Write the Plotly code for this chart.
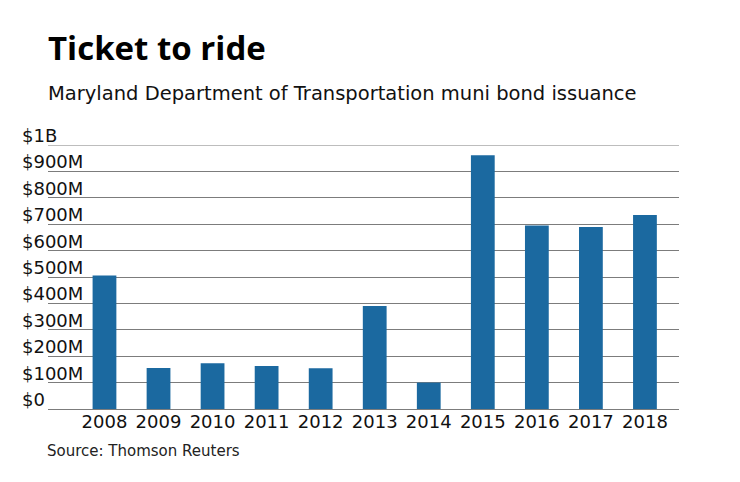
import plotly.graph_objects as go

years = ["2008", "2009", "2010", "2011", "2012", "2013", "2014", "2015", "2016", "2017", "2018"]
issuance_musd = [506, 155, 173, 163, 154, 390, 100, 961, 695, 689, 735]
ytick_vals = [0, 100, 200, 300, 400, 500, 600, 700, 800, 900, 1000]
ytick_text = ["$0", "$100M", "$200M", "$300M", "$400M", "$500M", "$600M", "$700M", "$800M", "$900M", "$1B"]

# page layout (page pixel coords); the html body adds an 8px offset
OFF = 8
PW, PH = 740, 482
PL, PR, PT, PB = 48, 679, 145, 409   # plot area edges on the page
pw = PR - PL
ph = PB - PT

W, H = PW - OFF, PH - OFF
margin = dict(l=PL - OFF, r=W - (PR - OFF), t=PT - OFF, b=H - (PB - OFF))

FONT = "DejaVu Sans"
GRID = "#7c7c7c"

fig = go.Figure(go.Bar(
    x=years, y=issuance_musd,
    marker=dict(color="#1b69a0", line=dict(width=0)),
    width=0.44,
    hoverinfo="x+y",
))

def px_x(x):
    return (x - PL) / pw

def px_y(y):
    return (PB - y) / ph

annotations = []
for v, t in zip(ytick_vals, ytick_text):
    annotations.append(dict(
        x=px_x(19.5), xref="paper", y=v, yref="y",
        text=t, showarrow=False, xanchor="left", yanchor="bottom",
        font=dict(family=FONT, size=18, color="#111"), yshift=-3,
    ))

annotations += [
    dict(x=px_x(45.5), xref="paper", y=px_y(47.5), yref="paper",
         text="<b>Ticket to ride</b>", showarrow=False, xanchor="left", yanchor="middle",
         font=dict(family="Open Sans", size=33, color="#000")),
    dict(x=px_x(45.5), xref="paper", y=px_y(93.5), yref="paper",
         text="Maryland Department of Transportation muni bond issuance", showarrow=False,
         xanchor="left", yanchor="middle",
         font=dict(family=FONT, size=19.5, color="#111")),
    dict(x=px_x(45), xref="paper", y=px_y(450.5), yref="paper",
         text="Source: Thomson Reuters", showarrow=False, xanchor="left", yanchor="middle",
         font=dict(family=FONT, size=15, color="#222")),
]

fig.add_shape(type="line", xref="paper", yref="y", x0=0, x1=1,
              y0=ytick_vals[-1], y1=ytick_vals[-1],
              line=dict(color=GRID, width=1), layer="below")

fig.update_layout(
    width=W, height=H,
    margin=margin,
    plot_bgcolor="white", paper_bgcolor="white",
    showlegend=False,
    annotations=annotations,
    xaxis=dict(
        type="category", range=[-1.045, 10.63],
        showgrid=False, showline=False, ticks="",
        tickfont=dict(family=FONT, size=18, color="#111"),
        fixedrange=True,
    ),
    yaxis=dict(
        range=[0, 1000], tickvals=ytick_vals, showticklabels=False,
        showgrid=True, gridcolor=GRID, gridwidth=1,
        zeroline=True, zerolinecolor=GRID, zerolinewidth=1,
        showline=False, ticks="", fixedrange=True,
    ),
)

fig.write_html("out.html")
